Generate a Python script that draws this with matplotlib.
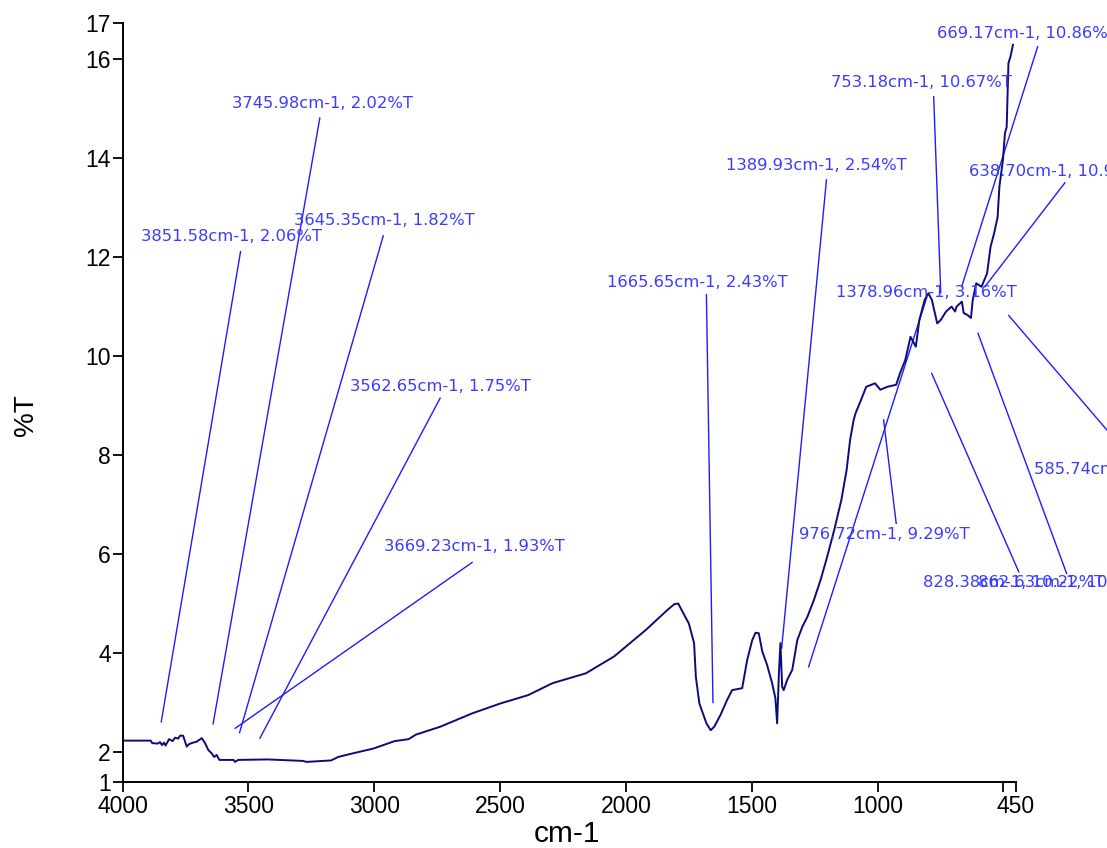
import matplotlib
matplotlib.use("Agg")
import matplotlib.pyplot as plt

# ---------------- data ----------------
wavenumber = [4000, 3888, 3882, 3860, 3851, 3843, 3835, 3829, 3815, 3801, 3791, 3779,
              3771, 3759, 3745, 3735, 3725, 3705, 3685, 3672, 3659, 3645, 3636, 3626,
              3615, 3559, 3553, 3541, 3423, 3283, 3269, 3171, 3143, 3087, 3003, 2919,
              2863, 2835, 2738, 2611, 2499, 2388, 2292, 2159, 2047, 1920, 1835, 1807,
              1792, 1764, 1750, 1729, 1722, 1708, 1680, 1663, 1649, 1624, 1598, 1578,
              1538, 1532, 1518, 1498, 1485, 1472, 1458, 1439, 1419, 1406, 1399, 1392,
              1386, 1379, 1373, 1359, 1339, 1319, 1299, 1279, 1253, 1225, 1200, 1172,
              1144, 1123, 1109, 1095, 1087, 1066, 1045, 1010, 989, 961, 926, 911, 890,
              869, 848, 834, 813, 798, 784, 763, 749, 728, 706, 692, 686, 665, 658, 643,
              629, 622, 608, 587, 565, 551, 537, 523, 516, 502, 494, 487, 480, 472, 462]
transmittance = [2.23, 2.23, 2.18, 2.17, 2.20, 2.14, 2.19, 2.13, 2.26, 2.22, 2.29, 2.27,
                 2.33, 2.33, 2.11, 2.16, 2.18, 2.21, 2.28, 2.18, 2.04, 1.97, 1.90, 1.94,
                 1.84, 1.84, 1.80, 1.84, 1.85, 1.82, 1.80, 1.83, 1.90, 1.97, 2.07, 2.22,
                 2.26, 2.35, 2.51, 2.78, 2.98, 3.15, 3.39, 3.59, 3.93, 4.47, 4.87, 4.99,
                 5.00, 4.73, 4.60, 4.20, 3.52, 2.98, 2.58, 2.44, 2.51, 2.75, 3.05, 3.25,
                 3.29, 3.46, 3.86, 4.26, 4.41, 4.40, 4.03, 3.76, 3.39, 3.09, 2.58, 3.59,
                 4.20, 3.32, 3.25, 3.46, 3.66, 4.26, 4.53, 4.73, 5.07, 5.50, 5.95, 6.49,
                 7.09, 7.70, 8.31, 8.71, 8.85, 9.11, 9.38, 9.45, 9.32, 9.38, 9.42, 9.65, 9.92,
                 10.39, 10.19, 10.73, 11.13, 11.27, 11.13, 10.66, 10.73, 10.90, 11.00, 10.90,
                 11.00, 11.10, 10.87, 10.83, 10.77, 11.13, 11.47, 11.40, 11.67, 12.21, 12.48,
                 12.81, 13.42, 13.96, 14.50, 14.63, 15.92, 16.05, 16.29]

peak_wn = [3851.58, 3745.98, 3645.35, 3562.65, 3669.23, 1665.65, 1389.93, 1378.96,
           976.72, 828.38, 862.63, 753.18, 669.17, 638.70, 585.74]
peak_t = [2.06, 2.02, 1.82, 1.75, 1.93, 2.43, 2.54, 3.16,
          9.29, 10.22, 10.12, 10.67, 10.86, 10.95, 10.61]

x_ticks = [4000, 3500, 3000, 2500, 2000, 1500, 1000, 500, 450]
x_tick_labels = ["4000", "3500", "3000", "2500", "2000", "1500", "1000", "", "450"]
y_tick_labels = ["1", "2", "4", "6", "8", "10", "12", "14", "16", "17"]

# ---------------- layout (annotation placement) ----------------
# text anchor (left, centre) and leader line (start near label, end near peak)
label_pos = [(3926, 12.41), (3565, 15.10), (3318, 12.73), (3095, 9.38), (2960, 6.15),
             (2075, 11.48), (1602, 13.85), (1165, 11.29), (1314, 6.39), (821, 5.42),
             (602, 5.42), (1187, 15.53), (763, 16.52), (636, 13.73), (379, 7.70)]
leader = [((3531, 12.11), (3846, 2.61)), ((3216, 14.81), (3640, 2.57)),
          ((2964, 12.43), (3535, 2.39)), ((2738, 9.15), (3454, 2.28)),
          ((2611, 5.83), (3552, 2.48)), ((1680, 11.24), (1654, 3.00)),
          ((1203, 13.56), (1381, 4.10)), ((805, 11.18), (1274, 3.72)),
          ((926, 6.62), (976, 8.71)), ((785, 9.65), (439, 5.64)),
          ((601, 10.46), (249, 5.61)), ((777, 15.24), (749, 11.28)),
          ((364, 16.25), (666, 11.40)), ((256, 13.50), (574, 11.40)),
          ((479, 10.82), (0, 7.98))]

W, H = 1107, 848
fig = plt.figure(figsize=(W / 100, H / 100), dpi=100)
fig.patch.set_facecolor("white")
left, right, bottom, top = 122.5, 1016, 782, 23
ax = fig.add_axes([left / W, 1 - bottom / H, (right - left) / W, (bottom - top) / H])

ymin, ymax = 1.394, 16.73
ax.set_xlim(4000, 450)
ax.set_ylim(ymin, ymax)

ax.plot(wavenumber, transmittance, color="#0b0b7a", lw=1.4, zorder=3)

for (lx, ly), ((x0, y0), (x1, y1)) in zip(label_pos, leader):
    ax.plot([x0, x1], [y0, y1], color="#1c1cff", lw=1.0, clip_on=False, zorder=2)
for wn, t, (lx, ly) in zip(peak_wn, peak_t, label_pos):
    ax.text(lx, ly, f"{wn:.2f}cm-1, {t:.2f}%T", ha="left", va="center",
            fontsize=11.8, family="DejaVu Sans", color="#3b3bff", clip_on=False,
            zorder=4)

tick_font = dict(family="Liberation Sans", size=16.5, color="black")
ax.set_xticks(x_ticks)
ax.set_xticklabels(x_tick_labels, **tick_font)
y_ticks = [ymin, 2, 4, 6, 8, 10, 12, 14, 16, ymax]
ax.set_yticks(y_ticks)
ax.set_yticklabels(y_tick_labels, **tick_font)
ax.tick_params(axis="x", direction="out", length=7, width=1.3, pad=2.5)
ax.tick_params(axis="y", direction="out", length=7, width=1.3, pad=1.5)

for s in ["top", "right"]:
    ax.spines[s].set_visible(False)
for s in ["left", "bottom"]:
    ax.spines[s].set_linewidth(1.4)
    ax.spines[s].set_color("black")

fig.text(26 / W, 1 - 415 / H, "%T", rotation=90, ha="center", va="center",
         family="Liberation Sans", fontsize=20, color="black")
fig.text(567 / W, 1 - 842 / H, "cm-1", ha="center", va="baseline",
         family="Liberation Sans", fontsize=21.5, color="black")

fig.savefig("out.png", dpi=100)
